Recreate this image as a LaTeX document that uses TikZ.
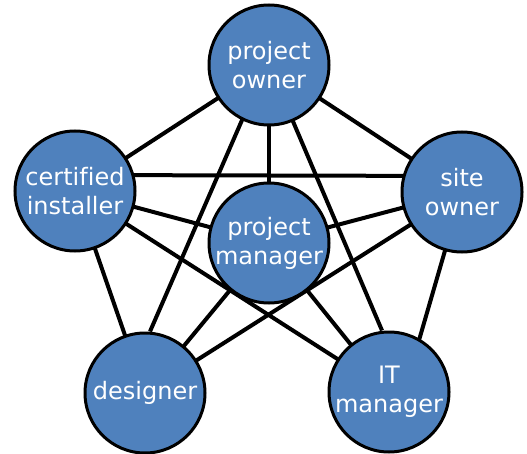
\documentclass[tikz,border=0pt]{standalone}
\usepackage{fontspec}
\newfontfamily\dejavu[Ligatures=NoCommon]{DejaVu Sans}
\usetikzlibrary{backgrounds}
\definecolor{nodeblue}{HTML}{4F81BD}
\tikzset{
  person/.style={circle, draw=black, line width=3pt, fill=nodeblue, text=white,
    minimum size=120pt, inner sep=0pt, align=center,
    font=\dejavu\fontsize{24}{29}\selectfont},
  link/.style={line width=4pt, draw=black}
}
\begin{document}
\begin{tikzpicture}[x=1pt,y=-1pt]
\useasboundingbox (0,0) rectangle (527,454);
\node[person] (po) at (269,65) {project\\owner};
\node[person] (ci) at (75,191) {certified\\installer};
\node[person] (so) at (462,192) {site\\owner};
\node[person] (pm) at (269,243) {project\\manager};
\node[person] (d) at (145,393) {designer};
\node[person] (it) at (389,392) {IT\\manager};
\begin{scope}[on background layer]
\draw[link] (po.center) -- (ci.center);
\draw[link] (po.center) -- (so.center);
\draw[link] (po.center) -- (pm.center);
\draw[link] ([xshift=-3pt]po.center) -- ([xshift=5pt]d.north);
\draw[link] (po.center) -- ([xshift=-7pt]it.north);
\draw[link] ([yshift=16pt]ci.center) -- ([yshift=16pt]so.center);
\draw[link] (ci.center) -- (pm.center);
\draw[link] (ci.center) -- (d.center);
\draw[link] (ci.center) -- (it.center);
\draw[link] (so.center) -- (pm.center);
\draw[link] (so.center) -- (d.center);
\draw[link] (so.center) -- ([xshift=15pt]it.center);
\draw[link] (pm.center) -- (d.center);
\draw[link] (pm.center) -- (it.center);
\end{scope}
\end{tikzpicture}
\end{document}
